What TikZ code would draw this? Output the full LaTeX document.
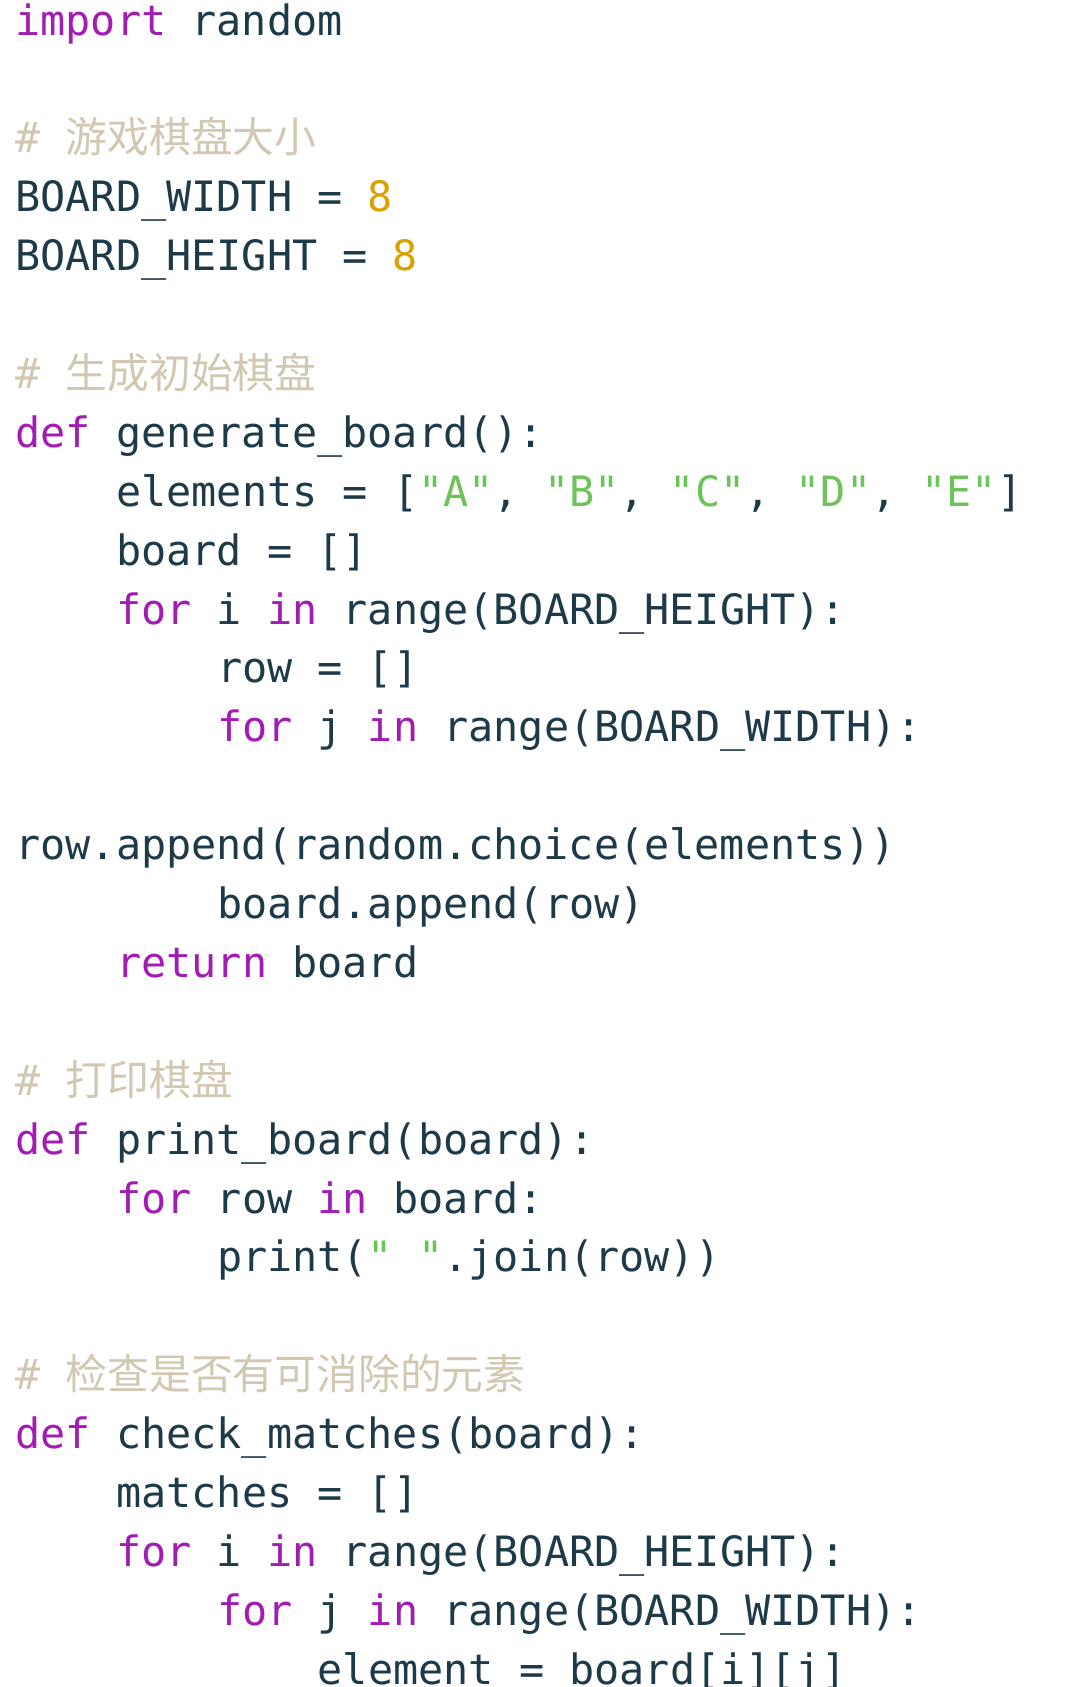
\documentclass[tikz,border=0pt]{standalone}
\usepackage{fontspec}
\setmonofont{DejaVu Sans Mono}
\newfontfamily\cjk{Noto Sans CJK SC}
\definecolor{codetext}{HTML}{1E3A48}
\definecolor{codekw}{HTML}{A21CB4}
\definecolor{codestr}{HTML}{6CC35A}
\definecolor{codenum}{HTML}{D9A000}
\definecolor{codecmt}{HTML}{D2C8B2}
\newcommand{\kw}[1]{\textcolor{codekw}{#1}}
\newcommand{\strg}[1]{\textcolor{codestr}{#1}}
\newcommand{\nm}[1]{\textcolor{codenum}{#1}}
\newcommand{\cmt}[1]{\textcolor{codecmt}{\#\ {\cjk #1}}}
\tikzset{
  codeline/.style={anchor=base west, inner sep=0pt, text=codetext,
    font=\fontsize{20.9pt}{24pt}\ttfamily}
}
\begin{document}
\begin{tikzpicture}[x=12.6pt, y=-29.45pt]
  \useasboundingbox (0,0) rectangle (540pt,-843.5pt);
  \clip (0,0) rectangle (540pt,-843.5pt);
  % line k sits at baseline 17.5pt + k*29.45pt, column c at 7.5pt + c*12.6pt
  \begin{scope}[shift={(7.5pt,-17.5pt)}]
    \node[codeline] (l0) at (0,0) {\kw{import} random};
    \node[codeline] (l2) at (0,2) {\cmt{游戏棋盘大小}};
    \node[codeline] (l3) at (0,3) {BOARD\_WIDTH = \nm{8}};
    \node[codeline] (l4) at (0,4) {BOARD\_HEIGHT = \nm{8}};
    \node[codeline] (l6) at (0,6) {\cmt{生成初始棋盘}};
    \node[codeline] (l7) at (0,7) {\kw{def} generate\_board():};
    \node[codeline] (l8) at (4,8) {elements = [\strg{"A"}, \strg{"B"}, \strg{"C"}, \strg{"D"}, \strg{"E"}]};
    \node[codeline] (l9) at (4,9) {board = []};
    \node[codeline] (l10) at (4,10) {\kw{for} i \kw{in} range(BOARD\_HEIGHT):};
    \node[codeline] (l11) at (8,11) {row = []};
    \node[codeline] (l12) at (8,12) {\kw{for} j \kw{in} range(BOARD\_WIDTH):};
    \node[codeline] (l14) at (0,14) {row.append(random.choice(elements))};
    \node[codeline] (l15) at (8,15) {board.append(row)};
    \node[codeline] (l16) at (4,16) {\kw{return} board};
    \node[codeline] (l18) at (0,18) {\cmt{打印棋盘}};
    \node[codeline] (l19) at (0,19) {\kw{def} print\_board(board):};
    \node[codeline] (l20) at (4,20) {\kw{for} row \kw{in} board:};
    \node[codeline] (l21) at (8,21) {print(\strg{"\ "}.join(row))};
    \node[codeline] (l23) at (0,23) {\cmt{检查是否有可消除的元素}};
    \node[codeline] (l24) at (0,24) {\kw{def} check\_matches(board):};
    \node[codeline] (l25) at (4,25) {matches = []};
    \node[codeline] (l26) at (4,26) {\kw{for} i \kw{in} range(BOARD\_HEIGHT):};
    \node[codeline] (l27) at (8,27) {\kw{for} j \kw{in} range(BOARD\_WIDTH):};
    \node[codeline] (l28) at (12,28) {element = board[i][j]};
  \end{scope}
\end{tikzpicture}
\end{document}
